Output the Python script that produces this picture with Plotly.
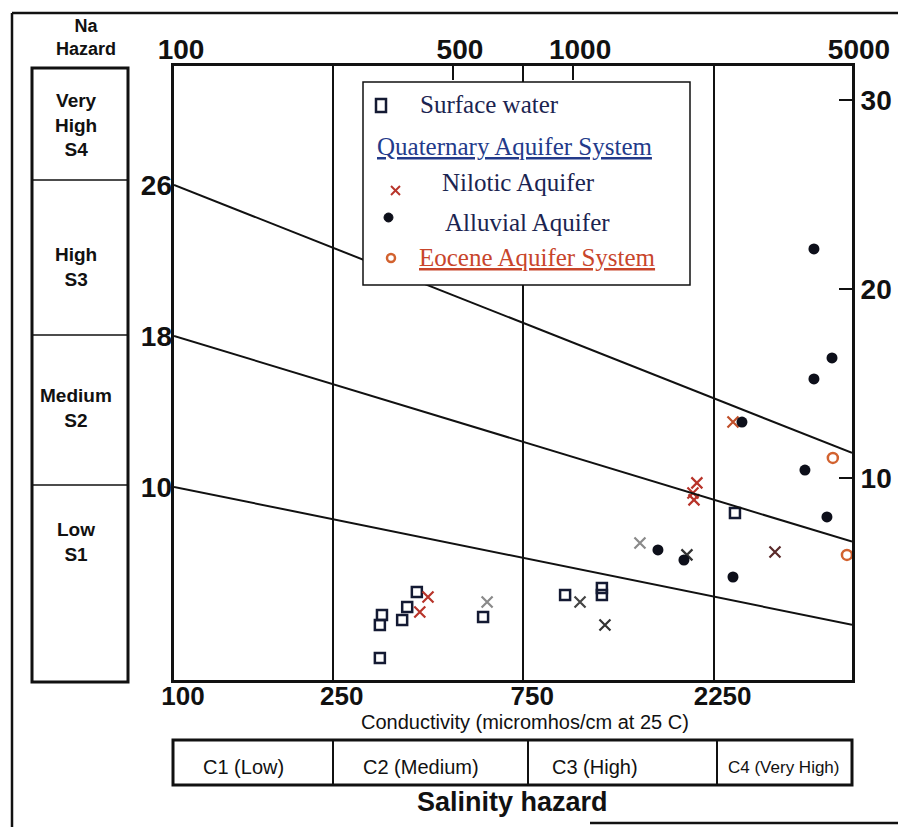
import math
import plotly.graph_objects as go

# ---------------- data ----------------
surface_ec = [328, 332, 328, 373, 384, 406, 595, 955, 1181, 1181, 2545]
surface_sar = [0.48, 2.75, 2.22, 2.49, 3.17, 3.97, 2.65, 3.81, 4.18, 3.81, 8.15]

nilotic_ec = [433, 413, 609, 1041, 1202, 1471, 1929, 2043, 1997, 2009, 2516, 3206]
nilotic_sar = [3.70, 2.91, 3.44, 3.44, 2.22, 6.56, 5.93, 9.74, 9.21, 8.84, 12.96, 6.08]

alluvial_ec = [1632, 1896, 2650, 2516, 3811, 4014, 4455, 4014, 4327]
alluvial_sar = [6.19, 5.66, 12.96, 4.76, 10.42, 22.12, 16.35, 15.24, 7.94]

eocene_ec = [4477, 4856]
eocene_sar = [11.06, 5.93]

# sodium hazard division lines (SAR at EC=100 and at EC=5000)
line_ec = [100, 5000]
line_sar_left = [26, 18, 10]
line_sar_right = [11.8, 7.1, 2.7]

bottom_ticks = [100, 250, 750, 2250]
top_ticks = [100, 500, 1000, 5000]
right_ticks = [10, 20, 30]
left_ticks = [10, 18, 26]

na_classes = ["Very<br>High<br>S4", "High<br>S3", "Medium<br>S2", "Low<br>S1"]
salinity_classes = ["C1 (Low)", "C2 (Medium)", "C3 (High)", "C4 (Very High)"]
legend_labels = ["Surface water", "<u>Quaternary Aquifer System</u>", "Nilotic Aquifer",
                 "Alluvial Aquifer", "<u>Eocene Aquifer System</u>"]

# ---------------- style ----------------
OFF = 8                      # page body margin of the html page
W, H = 906 - OFF, 827 - OFF
L, R, T, B = 174, 852, 66, 680   # plot area in page pixels
def px(x):
    return (x - L) / (R - L)
def py(y):
    return (B - y) / (B - T)

NAVY = "#1b2450"
RED = "#b8342a"
ORANGE = "#d2622f"
nilotic_colors = [RED, RED, "#8a8a8a", "#444444", "#333333", "#8a8a8a", "#333333",
                  RED, RED, RED, "#c0502a", "#5a2a2a"]
SANS = "Liberation Sans, Arial, sans-serif"
SERIF = "Liberation Serif, Times New Roman, serif"
BOLD = dict(family=SANS, size=28, color="#111111", weight="bold")
BOLD_B = dict(family=SANS, size=26, color="#111111", weight="bold")

fig = go.Figure()

# division lines
for a, b in zip(line_sar_left, line_sar_right):
    fig.add_trace(go.Scatter(x=line_ec, y=[a, b], mode="lines", xaxis="x2", yaxis="y2",
                             line=dict(color="#111111", width=2), showlegend=False,
                             hoverinfo="skip"))

fig.add_trace(go.Scatter(x=surface_ec, y=surface_sar, mode="markers", name="Surface water",
                         marker=dict(symbol="square-open", size=10, color="#141a33",
                                     line=dict(width=2.5, color="#141a33"))))
fig.add_trace(go.Scatter(x=nilotic_ec, y=nilotic_sar, mode="markers", name="Nilotic Aquifer",
                         marker=dict(symbol="x-thin-open", size=11, color=nilotic_colors,
                                     line=dict(width=2.2, color=nilotic_colors))))
fig.add_trace(go.Scatter(x=alluvial_ec, y=alluvial_sar, mode="markers", name="Alluvial Aquifer",
                         marker=dict(symbol="circle", size=11, color="#0d0f1a")))
fig.add_trace(go.Scatter(x=eocene_ec, y=eocene_sar, mode="markers", name="Eocene Aquifer System",
                         marker=dict(symbol="circle-open", size=10, color=ORANGE,
                                     line=dict(width=2.5, color=ORANGE))))

shapes = []
def line(x0, y0, x1, y1, w=2.0, c="#111111"):
    shapes.append(dict(type="line", xref="paper", yref="paper", x0=px(x0), y0=py(y0),
                       x1=px(x1), y1=py(y1), line=dict(color=c, width=w)))
def rect(x0, y0, x1, y1, w=2.0, c="#111111", fill=None):
    d = dict(type="rect", xref="paper", yref="paper", x0=px(x0), y0=py(y0),
             x1=px(x1), y1=py(y1), line=dict(color=c, width=w))
    if fill:
        d["fillcolor"] = fill
    shapes.append(d)

# outer frame
line(12, 13, 12, 827, 2.5)
line(12, 13, 906, 13, 2.5)
line(590, 823, 906, 823, 2.5)
# Na hazard box
rect(32, 68, 128, 682, 3)
for yy in [180, 335, 485]:
    line(32, yy, 128, yy, 1.5)
# salinity class box
rect(173, 740, 852, 785, 3)
for xx in [333, 528, 717]:
    line(xx, 740, xx, 785, 2)
# legend box
rect(363, 82, 690, 285, 1.5, fill="white")
# legend symbols
rect(376, 99, 386, 112, 2.5, "#141a33")
line(391, 186, 400, 195, 2, RED)
line(391, 195, 400, 186, 2, RED)
shapes.append(dict(type="circle", xref="paper", yref="paper", x0=px(384), y0=py(222),
                   x1=px(393), y1=py(213), fillcolor="#0d0f1a", line=dict(color="#0d0f1a", width=1)))
shapes.append(dict(type="circle", xref="paper", yref="paper", x0=px(387), y0=py(262),
                   x1=px(395), y1=py(254), line=dict(color=ORANGE, width=2.5)))

ann = []
def text(x, y, s, size=20, color="#111111", family=SANS, xanchor="center", weight="normal"):
    ann.append(dict(xref="paper", yref="paper", x=px(x), y=py(y), text=s, showarrow=False,
                    xanchor=xanchor, yanchor="middle",
                    font=dict(family=family, size=size, color=color, weight=weight)))

text(86, 38, "Na<br>Hazard", 18, weight="bold")
for s, yy in zip(na_classes, [125, 267, 408, 542]):
    text(76, yy, s, 19, weight="bold")
for s, xx in zip(salinity_classes, [243, 421, 595, 783]):
    text(xx, 767, s, 17 if "Very" in s else 20)
text(525, 722, "Conductivity (micromhos/cm at 25 C)", 20)
text(512, 802, "Salinity hazard", 27, weight="bold")

leg_x = [418, 375, 440, 443, 417]
leg_y = [104, 147, 182, 222, 257]
leg_c = [NAVY, "#233a8a", NAVY, NAVY, "#c8452b"]
for s, xx, yy, cc in zip(legend_labels, leg_x, leg_y, leg_c):
    text(xx, yy, s, 25, cc, SERIF, "left")

fig.update_layout(
    width=W, height=H,
    margin=dict(l=L - OFF, r=906 - R, t=T - OFF, b=827 - B, pad=0),
    paper_bgcolor="white", plot_bgcolor="white",
    showlegend=False,
    shapes=shapes, annotations=ann,
    xaxis=dict(type="log", range=[2, math.log10(5000)], tickvals=bottom_ticks,
               ticktext=[str(v) for v in bottom_ticks], ticks="", showgrid=True,
               gridcolor="#111111", gridwidth=2, showline=True, linecolor="#111111",
               linewidth=3, mirror=True, zeroline=False, tickfont=BOLD_B, ticklabelshift=9,
               ticklabelstandoff=-9),
    xaxis2=dict(type="log", range=[2, math.log10(5000)], overlaying="x", side="top",
                tickvals=top_ticks, ticktext=[str(v) for v in top_ticks], ticks="inside",
                ticklen=14, tickwidth=1.5, tickcolor="#111111", showgrid=False,
                zeroline=False, tickfont=BOLD, ticklabelshift=7),
    yaxis=dict(range=[-0.69, 31.8], side="right", tickvals=right_ticks, ticks="inside",
               ticklen=13, tickwidth=2, tickcolor="#111111", showgrid=False, zeroline=False,
               showline=True, linecolor="#111111", linewidth=3, mirror=True, tickfont=BOLD),
    yaxis2=dict(range=[-0.23, 32.3], overlaying="y", side="left", tickvals=left_ticks,
                ticks="", showgrid=False, zeroline=False, tickfont=BOLD, ticklabelstandoff=1),
)

fig.write_html("out.html")
